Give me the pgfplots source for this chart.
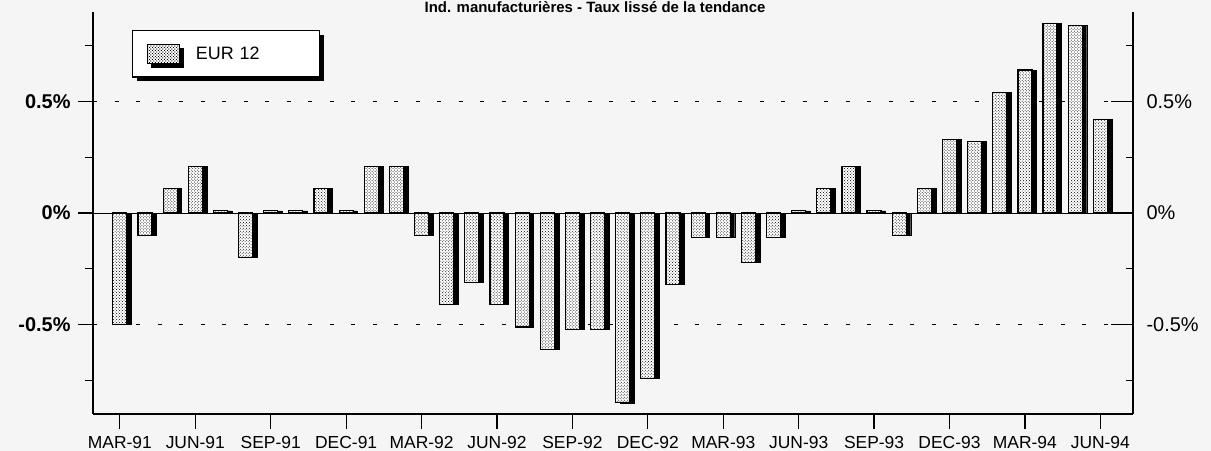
\documentclass[border=0pt]{standalone}
\usepackage{pgfplots}
\pgfplotsset{compat=1.18}
\usepackage{pgfplotstable}
\usepackage{fontspec}
\setmainfont{Liberation Sans}
\usetikzlibrary{patterns,shadows}

\pgfplotstableread{
idx val
0 -0.50
1 -0.10
2 0.11
3 0.21
4 0.01
5 -0.20
6 0.01
7 0.01
8 0.11
9 0.01
10 0.21
11 0.21
12 -0.10
13 -0.41
14 -0.31
15 -0.41
16 -0.51
17 -0.61
18 -0.52
19 -0.52
20 -0.85
21 -0.74
22 -0.32
23 -0.11
24 -0.11
25 -0.22
26 -0.11
27 0.01
28 0.11
29 0.21
30 0.01
31 -0.10
32 0.11
33 0.33
34 0.32
35 0.54
36 0.64
37 0.85
38 0.84
39 0.42
}\datatable

\begin{document}
\begin{tikzpicture}
\useasboundingbox[fill=black!4] (0bp,0bp) rectangle (1211bp,451bp);
\node[font=\bfseries\fontsize{15}{18}\selectfont, anchor=base] at (595bp,438bp) {Ind. manufacturières - Taux lissé de la tendance};
\begin{axis}[
  at={(93bp,37bp)}, anchor=south west, scale only axis,
  width=1040bp, height=402bp,
  xmin=-1.07, xmax=40.3, ymin=-0.9, ymax=0.9,
  axis x line*=bottom, axis y line*=left,
  axis line style={line width=1.2bp, black},
  xtick={0,3,...,39},
  xticklabels={MAR-91,JUN-91,SEP-91,DEC-91,MAR-92,JUN-92,SEP-92,DEC-92,MAR-93,JUN-93,SEP-93,DEC-93,MAR-94,JUN-94},
  xticklabel style={font=\fontsize{17.5}{20}\selectfont, yshift=-4bp},
  ytick={-0.5,0.5}, yticklabels={-0.5\%,0.5\%},
  extra y ticks={0}, extra y tick labels={0\%},
  extra y tick style={grid=major, major grid style={solid, line width=1bp, black}},
  minor ytick={-0.75,-0.25,0.25,0.75},
  yticklabel style={font=\bfseries\fontsize{20}{24}\selectfont, xshift=-4bp},
  tick align=outside,
  major tick length=15bp, minor tick length=8bp,
  tick style={line width=1.2bp, black},
  ymajorgrids,
  major grid style={dash pattern=on 4bp off 17.5bp, line width=1.3bp, black},
  legend style={at={(0.0375,0.955)}, anchor=north west, draw=black, line width=1.3bp, fill=white,
    drop shadow={shadow xshift=4bp, shadow yshift=-4bp, fill=black, opacity=1},
    inner xsep=14bp, inner ysep=13bp,
    font=\fontsize{18}{21}\selectfont,
    nodes={text width=108bp, align=left},
    /tikz/every odd column/.append style={column sep=14bp}},
  legend image code/.code={\draw[line width=1.2bp, fill=white, postaction={pattern=crosshatch dots}] (0bp,-9bp) rectangle (32bp,10bp);},
]
\addplot[ybar, bar width=14bp, bar shift=4.5bp, fill=black, draw=black, forget plot] table[x=idx,y=val]{\datatable};
\addplot[ybar, bar width=14bp, bar shift=0bp, draw=black, line width=1.2bp, fill=white, postaction={pattern=crosshatch dots}] table[x=idx,y=val]{\datatable};
\addlegendentry{EUR 12}
\end{axis}
\begin{axis}[
  at={(93bp,37bp)}, anchor=south west, scale only axis,
  width=1040bp, height=402bp,
  xmin=-1.07, xmax=40.3, ymin=-0.9, ymax=0.9,
  axis x line=none, axis y line*=right,
  axis line style={line width=1.2bp, black},
  ytick={-0.5,0,0.5}, yticklabels={-0.5\%,0\%,0.5\%},
  minor ytick={-0.75,-0.25,0.25,0.75},
  tick align=inside,
  major tick length=22bp, minor tick length=7bp,
  tick style={line width=1.2bp, black},
  yticklabel style={font=\fontsize{20}{24}\selectfont, xshift=10bp},
]
\end{axis}
\end{tikzpicture}
\end{document}
